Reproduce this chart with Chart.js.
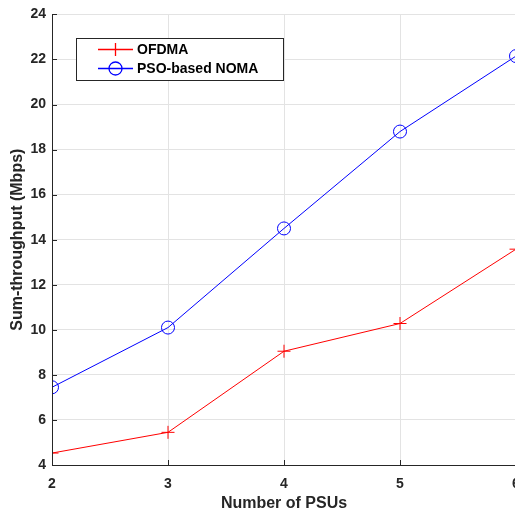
<!DOCTYPE html>
<html>
<head>
<meta charset="UTF-8">
<title>Sum-throughput vs number of PSUs</title>
<script src="https://cdn.jsdelivr.net/npm/chart.js"></script>
<style>
  html, body { margin: 0; padding: 0; background: #fff; overflow: hidden; }
  .chartBox { width: 540px; height: 510px; }
</style>
</head>
<body>
<div class="chartBox"><canvas id="myChart" width="540" height="510"></canvas></div>
<script>
// ---- data ----
const psus = [2, 3, 4, 5, 6];
const ofdma = [4.53, 5.45, 9.05, 10.28, 13.58];
const psoNoma = [7.45, 10.1, 14.5, 18.8, 22.15];
const xTicks = [2, 3, 4, 5, 6];
const yTicks = [4, 6, 8, 10, 12, 14, 16, 18, 20, 22, 24];

const axisColor = '#262626';
const gridColor = '#e3e3e3';
const red = '#ff0000';
const blue = '#0000ff';
const family = '"Liberation Sans", Arial, Helvetica, sans-serif';
const tickFont = { family, size: 14, weight: 'bold' };
const titleFont = { family, size: 16, weight: 'bold', lineHeight: 1 };

// MATLAB style axes: left + bottom line, ticks pointing inward
const matlabAxes = {
  id: 'matlabAxes',
  afterDatasetsDraw(chart) {
    const { ctx, chartArea: a, scales: { x, y } } = chart;
    ctx.save();
    ctx.strokeStyle = axisColor;
    ctx.lineWidth = 1;
    ctx.beginPath();
    ctx.moveTo(a.left + 0.5, a.top);
    ctx.lineTo(a.left + 0.5, a.bottom + 0.5);
    ctx.lineTo(a.right + 1, a.bottom + 0.5);
    xTicks.forEach(v => {
      const px = Math.round(x.getPixelForValue(v)) + 0.5;
      ctx.moveTo(px, a.bottom);
      ctx.lineTo(px, a.bottom - 5);
    });
    yTicks.forEach(v => {
      const py = Math.round(y.getPixelForValue(v)) + 0.5;
      ctx.moveTo(a.left, py);
      ctx.lineTo(a.left + 5, py);
    });
    ctx.stroke();
    ctx.restore();
  }
};

// boxed legend in the upper left
const legendItems = [
  { label: 'OFDMA', color: red, style: 'cross' },
  { label: 'PSO-based NOMA', color: blue, style: 'circle' }
];
const boxLegend = {
  id: 'boxLegend',
  afterDraw(chart) {
    const ctx = chart.ctx;
    ctx.save();
    ctx.fillStyle = '#fff';
    ctx.fillRect(76.5, 38.5, 207, 42);
    ctx.strokeStyle = axisColor;
    ctx.lineWidth = 1;
    ctx.strokeRect(76.5, 38.5, 207, 42);
    legendItems.forEach((it, i) => {
      const yy = i === 0 ? 49.5 : 68.5;
      const mx = 115.5;
      ctx.lineWidth = 1.3;
      ctx.strokeStyle = it.color;
      ctx.beginPath();
      ctx.moveTo(98, yy);
      ctx.lineTo(133, yy);
      ctx.stroke();
      ctx.beginPath();
      if (it.style === 'cross') {
        ctx.moveTo(mx, yy - 6.5);
        ctx.lineTo(mx, yy + 6.5);
      } else {
        ctx.arc(mx, yy, 6.5, 0, Math.PI * 2);
      }
      ctx.stroke();
      ctx.fillStyle = '#000';
      ctx.font = 'bold 14px ' + family;
      ctx.textBaseline = 'middle';
      ctx.textAlign = 'left';
      ctx.fillText(it.label, 137, yy + 1);
    });
    ctx.restore();
  }
};

const data = {
  datasets: [
    {
      label: 'OFDMA',
      data: psus.map((v, i) => ({ x: v, y: ofdma[i] })),
      borderColor: red,
      backgroundColor: red,
      borderWidth: 1,
      pointStyle: 'cross',
      pointRadius: 6.5,
      pointBorderWidth: 1,
      pointBorderColor: red,
      tension: 0
    },
    {
      label: 'PSO-based NOMA',
      data: psus.map((v, i) => ({ x: v, y: psoNoma[i] })),
      borderColor: blue,
      backgroundColor: blue,
      borderWidth: 1,
      pointStyle: 'circle',
      pointRadius: 6.5,
      pointBorderWidth: 1,
      pointBorderColor: blue,
      pointBackgroundColor: 'rgba(0,0,0,0)',
      tension: 0
    }
  ]
};

const config = {
  type: 'line',
  data,
  options: {
    responsive: false,
    animation: false,
    layout: { padding: { top: 10, right: 24, left: 0, bottom: 0 } },
    plugins: { legend: { display: false }, tooltip: { enabled: false } },
    scales: {
      x: {
        type: 'linear',
        min: 2,
        max: 6,
        afterBuildTicks: s => { s.ticks = xTicks.map(v => ({ value: v })); },
        afterFit: s => { s.height = 45; },
        grid: { color: gridColor, drawTicks: false },
        border: { display: false },
        ticks: { color: axisColor, font: tickFont, padding: 11, maxRotation: 0 },
        title: { display: true, text: 'Number of PSUs', color: axisColor, font: titleFont, padding: { top: 0, bottom: -2 } }
      },
      y: {
        min: 4,
        max: 24,
        afterBuildTicks: s => { s.ticks = yTicks.map(v => ({ value: v })); },
        afterFit: s => { s.width = 52; },
        grid: { color: gridColor, drawTicks: false },
        border: { display: false },
        ticks: { color: axisColor, font: tickFont, padding: 6 },
        title: { display: true, text: 'Sum-throughput (Mbps)', color: axisColor, font: titleFont, padding: { top: 10, bottom: 0 } }
      }
    }
  },
  plugins: [matlabAxes, boxLegend]
};

const myChart = new Chart(document.getElementById('myChart'), config);
</script>
</body>
</html>
